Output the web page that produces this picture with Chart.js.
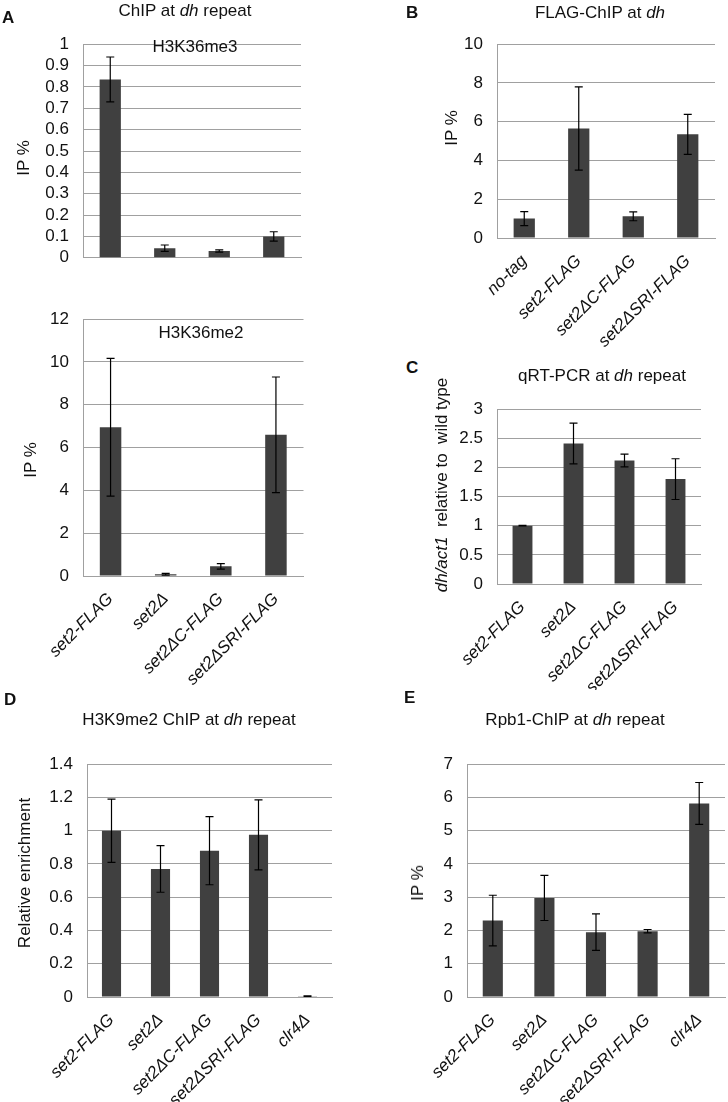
<!DOCTYPE html>
<html>
<head>
<meta charset="utf-8">
<script src="https://cdn.jsdelivr.net/npm/chart.js@4.4.0/dist/chart.umd.min.js"></script>
<style>
  body { margin: 0; background: #fff; }
  #page { position: relative; width: 728px; height: 1102px; overflow: hidden; font-family: "Liberation Sans", Arial, sans-serif; color: #111; }
  canvas { position: absolute; }
  .txt { position: absolute; white-space: pre; transform: translate(-50%, -50%); font-size: 17px; z-index: 2; }
  .letter { position: absolute; font-weight: bold; font-size: 17px; z-index: 2; }
  .ylab { position: absolute; white-space: pre; transform: translate(-50%, -50%) rotate(-90deg); font-size: 17px; z-index: 2; }
</style>
</head>
<body>
<div id="page">
  <div class="letter" style="left:2px;top:8px">A</div>
  <div class="txt" style="left:185px;top:11px">ChIP at <i>dh</i> repeat</div>
  <div class="txt" style="left:195px;top:47px">H3K36me3</div>
  <div class="ylab" style="left:24px;top:158px">IP %</div>
  <div class="txt" style="left:201px;top:333px">H3K36me2</div>
  <div class="ylab" style="left:31px;top:460px">IP %</div>

  <div class="letter" style="left:406px;top:3px">B</div>
  <div class="txt" style="left:600px;top:13px">FLAG-ChIP at <i>dh</i></div>
  <div class="ylab" style="left:452px;top:128px">IP %</div>

  <div class="letter" style="left:406px;top:358px">C</div>
  <div class="txt" style="left:602px;top:376px">qRT-PCR at <i>dh</i> repeat</div>
  <div class="ylab" style="left:442px;top:485px"><i>dh/act1</i>  relative to  wild type</div>

  <div class="letter" style="left:4px;top:690px">D</div>
  <div class="txt" style="left:189px;top:720px">H3K9me2 ChIP at <i>dh</i> repeat</div>
  <div class="ylab" style="left:25px;top:873px">Relative enrichment</div>

  <div class="letter" style="left:404px;top:688px">E</div>
  <div class="txt" style="left:575px;top:720px">Rpb1-ChIP at <i>dh</i> repeat</div>
  <div class="ylab" style="left:418px;top:883px">IP %</div>
</div>
<script>
// categories
const strainsA = ['set2-FLAG', 'set2Δ', 'set2ΔC-FLAG', 'set2ΔSRI-FLAG'];
const strainsB = ['no-tag', 'set2-FLAG', 'set2ΔC-FLAG', 'set2ΔSRI-FLAG'];
const strainsDE = ['set2-FLAG', 'set2Δ', 'set2ΔC-FLAG', 'set2ΔSRI-FLAG', 'clr4Δ'];

// values + error (half range)
const me3Values = [0.835, 0.045, 0.032, 0.10];
const me3Errors = [0.105, 0.015, 0.005, 0.022];
const me2Values = [6.95, 0.08, 0.45, 6.6];
const me2Errors = [3.22, 0.04, 0.13, 2.7];
const flagValues = [1.0, 5.65, 1.12, 5.35];
const flagErrors = [0.36, 2.15, 0.23, 1.03];
const rtValues = [1.0, 2.41, 2.12, 1.8];
const rtErrors = [0.005, 0.35, 0.11, 0.35];
const k9Values = [1.0, 0.77, 0.88, 0.975, 0.005];
const k9Errors = [0.19, 0.14, 0.205, 0.21, 0.002];
const rpbValues = [2.3, 2.98, 1.95, 1.98, 5.82];
const rpbErrors = [0.76, 0.68, 0.55, 0.05, 0.63];

// tick labels
const ticksMe3 = [0, 0.1, 0.2, 0.3, 0.4, 0.5, 0.6, 0.7, 0.8, 0.9, 1];
const ticksMe2 = [0, 2, 4, 6, 8, 10, 12];
const ticksFlag = [0, 2, 4, 6, 8, 10];
const ticksRt = [0, 0.5, 1, 1.5, 2, 2.5, 3];
const ticksK9 = [0, 0.2, 0.4, 0.6, 0.8, 1, 1.2, 1.4];
const ticksRpb = [0, 1, 2, 3, 4, 5, 6, 7];

const FONT = '"Liberation Sans", Arial, sans-serif';
const BAR_COLOR = '#404040';
const GRID_COLOR = '#a0a0a0';

// vẽ error bar cho từng cột
const errorBarPlugin = {
    id: 'errorBars',
    afterDatasetsDraw: function (chart) {
        const ctx = chart.ctx;
        const yScale = chart.scales.y;
        chart.data.datasets.forEach(function (ds, i) {
            const meta = chart.getDatasetMeta(i);
            meta.data.forEach(function (bar, j) {
                const v = ds.data[j], e = ds.errorBars[j];
                const yTop = yScale.getPixelForValue(v + e);
                const yBot = yScale.getPixelForValue(v - e);
                ctx.save();
                ctx.strokeStyle = '#000';
                ctx.lineWidth = 1.2;
                ctx.beginPath();
                ctx.moveTo(bar.x, yTop); ctx.lineTo(bar.x, yBot);
                ctx.moveTo(bar.x - 4, yTop); ctx.lineTo(bar.x + 4, yTop);
                ctx.moveTo(bar.x - 4, yBot); ctx.lineTo(bar.x + 4, yBot);
                ctx.stroke();
                ctx.restore();
            });
        });
    }
};

// box: vị trí canvas, area: vùng vẽ (toạ độ trang)
function makePanel(box, area, labels, values, errors, ticks, showLabels) {
    const page = document.getElementById('page');
    const cv = document.createElement('canvas');
    cv.width = box.w; cv.height = box.h;
    cv.style.left = box.x + 'px'; cv.style.top = box.y + 'px';
    cv.style.width = box.w + 'px'; cv.style.height = box.h + 'px';
    page.appendChild(cv);

    return new Chart(cv.getContext('2d'), {
        type: 'bar',
        data: {
            labels: labels,
            datasets: [{
                data: values,
                errorBars: errors,
                backgroundColor: BAR_COLOR,
                borderWidth: 0,
                categoryPercentage: 1,
                barPercentage: 0.39
            }]
        },
        options: {
            responsive: false,
            animation: false,
            events: [],
            layout: {
                autoPadding: false,
                padding: { top: area.t - box.y, right: box.x + box.w - area.r, left: 0, bottom: 0 }
            },
            plugins: { legend: { display: false }, tooltip: { enabled: false } },
            scales: {
                x: {
                    afterFit: function (scale) { scale.height = box.y + box.h - area.b; },
                    grid: { display: false },
                    border: { display: true, color: GRID_COLOR, width: 1 },
                    ticks: {
                        display: showLabels,
                        autoSkip: false,
                        minRotation: 45,
                        maxRotation: 45,
                        padding: 5,
                        color: '#111',
                        font: { family: FONT, size: 17, style: 'italic' }
                    }
                },
                y: {
                    min: ticks[0],
                    max: ticks[ticks.length - 1],
                    afterFit: function (scale) { scale.width = area.l - box.x; },
                    afterBuildTicks: function (scale) {
                        scale.ticks = ticks.map(function (v) { return { value: v }; });
                    },
                    grid: { color: GRID_COLOR, lineWidth: 1, drawTicks: false },
                    border: { display: true, color: GRID_COLOR, width: 1 },
                    ticks: {
                        padding: 14,
                        color: '#111',
                        font: { family: FONT, size: 17 },
                        callback: function (v) { return String(v); }
                    }
                }
            }
        },
        plugins: [errorBarPlugin]
    });
}

makePanel({ x: 0, y: 20, w: 320, h: 262 }, { l: 83, t: 31, r: 301, b: 275 },
    strainsA, me3Values, me3Errors, ticksMe3, false);
makePanel({ x: 0, y: 295, w: 320, h: 410 }, { l: 83, t: 306, r: 303.5, b: 576 },
    strainsA, me2Values, me2Errors, ticksMe2, true);
makePanel({ x: 370, y: 20, w: 358, h: 330 }, { l: 497, t: 33, r: 715, b: 238 },
    strainsB, flagValues, flagErrors, ticksFlag, true);
makePanel({ x: 370, y: 385, w: 358, h: 305 }, { l: 497, t: 393, r: 701, b: 584 },
    strainsA, rtValues, rtErrors, ticksRt, true);
makePanel({ x: 0, y: 740, w: 360, h: 362 }, { l: 87, t: 752, r: 332, b: 997 },
    strainsDE, k9Values, k9Errors, ticksK9, true);
makePanel({ x: 370, y: 740, w: 358, h: 362 }, { l: 467, t: 753, r: 725, b: 997 },
    strainsDE, rpbValues, rpbErrors, ticksRpb, true);
</script>
</body>
</html>
